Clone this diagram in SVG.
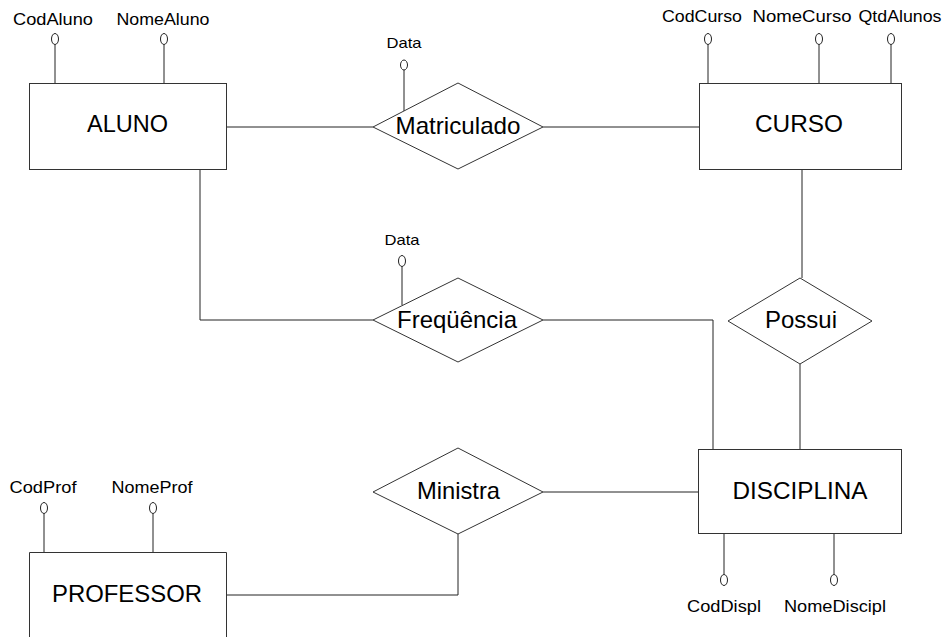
<svg xmlns="http://www.w3.org/2000/svg" width="947" height="637" viewBox="0 0 947 637">
<style>
.box{fill:#fff;stroke:#333;stroke-width:1}
.ln{fill:none;stroke:#222;stroke-width:1}
.att{fill:#fff;stroke:#222;stroke-width:1}
.t{font-family:"Liberation Sans",Arial,sans-serif;font-size:24px;fill:#000;text-anchor:middle}
.a{font-family:"Liberation Sans",Arial,sans-serif;font-size:17px;fill:#000;text-anchor:middle}
.d{font-family:"Liberation Sans",Arial,sans-serif;font-size:15px;fill:#000;text-anchor:middle}
</style>
<rect width="947" height="637" fill="#fff"/>
<g id="connectors">
<polyline class="ln" points="227,127 373,127"/>
<polyline class="ln" points="543,127 699,127"/>
<polyline class="ln" points="802,170 802,278"/>
<polyline class="ln" points="800,364 800,449"/>
<polyline class="ln" points="200,170 200,320 373,320"/>
<polyline class="ln" points="543,320 713,320 713,449"/>
<polyline class="ln" points="543,492 698,492"/>
<polyline class="ln" points="458,534 458,595 227,595"/>
</g>
<g id="aluno">
<line class="ln" x1="55" y1="45" x2="55" y2="83"/>
<ellipse class="att" cx="55" cy="39" rx="3.5" ry="5.5"/>
<text class="a" x="53" y="25" textLength="80" lengthAdjust="spacingAndGlyphs">CodAluno</text>
<line class="ln" x1="164" y1="45" x2="164" y2="83"/>
<ellipse class="att" cx="164" cy="39" rx="3.5" ry="5.5"/>
<text class="a" x="163" y="25" textLength="93" lengthAdjust="spacingAndGlyphs">NomeAluno</text>
<rect class="box" x="29.5" y="83.5" width="197" height="86"/>
<text class="t" x="127.5" y="132" textLength="81" lengthAdjust="spacingAndGlyphs">ALUNO</text>
</g>
<g id="matriculado">
<line class="ln" x1="404" y1="70" x2="404" y2="111"/>
<ellipse class="att" cx="404" cy="65" rx="3.5" ry="5"/>
<text class="d" x="404" y="48" textLength="35" lengthAdjust="spacingAndGlyphs">Data</text>
<polygon class="box" points="373,127 458,83 543,127 458,169"/>
<text class="t" x="458" y="134" textLength="125" lengthAdjust="spacingAndGlyphs">Matriculado</text>
</g>
<g id="curso">
<line class="ln" x1="708" y1="45" x2="708" y2="83"/>
<ellipse class="att" cx="708" cy="39" rx="3.5" ry="5.5"/>
<text class="a" x="702" y="22" textLength="80" lengthAdjust="spacingAndGlyphs">CodCurso</text>
<line class="ln" x1="819" y1="45" x2="819" y2="83"/>
<ellipse class="att" cx="819" cy="39" rx="3.5" ry="5.5"/>
<text class="a" x="802" y="22" textLength="99" lengthAdjust="spacingAndGlyphs">NomeCurso</text>
<line class="ln" x1="891" y1="45" x2="891" y2="83"/>
<ellipse class="att" cx="891" cy="39" rx="3.5" ry="5.5"/>
<text class="a" x="900" y="22" textLength="83" lengthAdjust="spacingAndGlyphs">QtdAlunos</text>
<rect class="box" x="699.5" y="83.5" width="202" height="86"/>
<text class="t" x="799" y="132" textLength="88" lengthAdjust="spacingAndGlyphs">CURSO</text>
</g>
<g id="frequencia">
<line class="ln" x1="402" y1="267" x2="402" y2="305"/>
<ellipse class="att" cx="402" cy="261" rx="3.5" ry="5.5"/>
<text class="d" x="402" y="245" textLength="35" lengthAdjust="spacingAndGlyphs">Data</text>
<polygon class="box" points="373,320 458,278 543,320 458,362"/>
<text class="t" x="457" y="328" textLength="120" lengthAdjust="spacingAndGlyphs">Freqüência</text>
</g>
<g id="possui">
<polygon class="box" points="728,321 800,278 872,321 800,364"/>
<text class="t" x="801" y="328" textLength="72" lengthAdjust="spacingAndGlyphs">Possui</text>
</g>
<g id="ministra">
<polygon class="box" points="373,492 458,448 543,492 458,534"/>
<text class="t" x="458.5" y="499" textLength="83" lengthAdjust="spacingAndGlyphs">Ministra</text>
</g>
<g id="disciplina">
<rect class="box" x="698.5" y="449.5" width="203" height="84"/>
<text class="t" x="800" y="499" textLength="135" lengthAdjust="spacingAndGlyphs">DISCIPLINA</text>
<line class="ln" x1="724" y1="534" x2="724" y2="574"/>
<ellipse class="att" cx="724" cy="580" rx="3.5" ry="5.5"/>
<text class="a" x="724" y="612" textLength="74" lengthAdjust="spacingAndGlyphs">CodDispl</text>
<line class="ln" x1="834" y1="534" x2="834" y2="574"/>
<ellipse class="att" cx="834" cy="580" rx="3.5" ry="5.5"/>
<text class="a" x="835" y="612" textLength="102" lengthAdjust="spacingAndGlyphs">NomeDiscipl</text>
</g>
<g id="professor">
<line class="ln" x1="44" y1="514" x2="44" y2="552"/>
<ellipse class="att" cx="44" cy="508" rx="3.5" ry="5.5"/>
<text class="a" x="43" y="493" textLength="67" lengthAdjust="spacingAndGlyphs">CodProf</text>
<line class="ln" x1="153" y1="514" x2="153" y2="552"/>
<ellipse class="att" cx="153" cy="508" rx="3.5" ry="5.5"/>
<text class="a" x="152" y="493" textLength="81" lengthAdjust="spacingAndGlyphs">NomeProf</text>
<path class="box" d="M29.5,640 V552.5 H226.5 V640"/>
<text class="t" x="127" y="602" textLength="150" lengthAdjust="spacingAndGlyphs">PROFESSOR</text>
</g>
</svg>
